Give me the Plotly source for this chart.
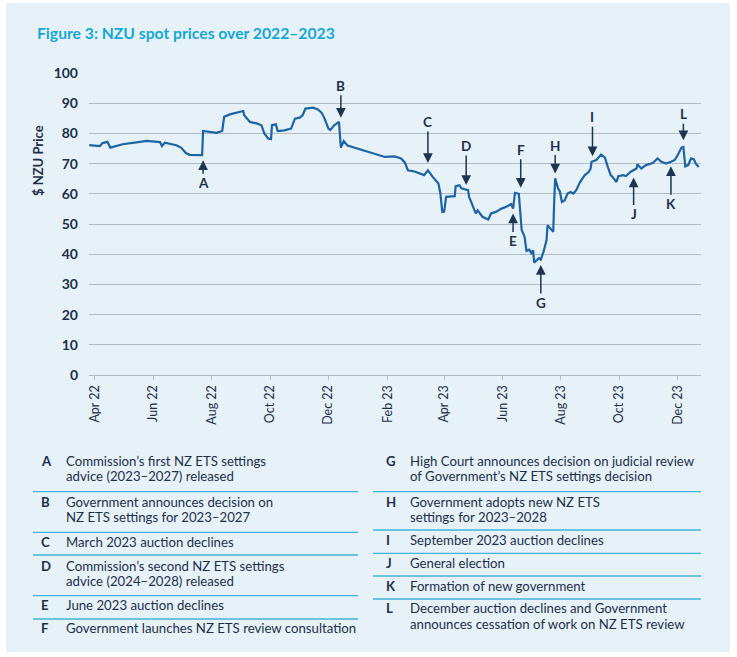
import plotly.graph_objects as go

# ---------------- data ----------------
dates = [
    "2022-03-26", "2022-04-06", "2022-04-09", "2022-04-14", "2022-04-17", "2022-04-20",
    "2022-04-30", "2022-05-18", "2022-05-25", "2022-06-08", "2022-06-10", "2022-06-13",
    "2022-06-25", "2022-06-30", "2022-07-05", "2022-07-09", "2022-07-22", "2022-07-23",
    "2022-07-30", "2022-08-06", "2022-08-12", "2022-08-14", "2022-08-20", "2022-08-27",
    "2022-09-03", "2022-09-04", "2022-09-10", "2022-09-17", "2022-09-22", "2022-09-25",
    "2022-09-29", "2022-10-02", "2022-10-03", "2022-10-07", "2022-10-09", "2022-10-16",
    "2022-10-23", "2022-10-27", "2022-11-01", "2022-11-04", "2022-11-07", "2022-11-15",
    "2022-11-20", "2022-11-24", "2022-11-27", "2022-12-01", "2022-12-03", "2022-12-07",
    "2022-12-12", "2022-12-14", "2022-12-17", "2022-12-21", "2023-01-06", "2023-01-23",
    "2023-01-29", "2023-02-08", "2023-02-15", "2023-02-19", "2023-02-22", "2023-03-01",
    "2023-03-06", "2023-03-11", "2023-03-15", "2023-03-20", "2023-03-26", "2023-03-28",
    "2023-03-30", "2023-04-01", "2023-04-03", "2023-04-12", "2023-04-13", "2023-04-17",
    "2023-04-19", "2023-04-26", "2023-04-27", "2023-04-29", "2023-05-02", "2023-05-04",
    "2023-05-06", "2023-05-11", "2023-05-17", "2023-05-20", "2023-05-25", "2023-05-31",
    "2023-06-05", "2023-06-10", "2023-06-12", "2023-06-14", "2023-06-18", "2023-06-19",
    "2023-06-21", "2023-06-24", "2023-06-26", "2023-06-29", "2023-07-01", "2023-07-03",
    "2023-07-04", "2023-07-09", "2023-07-11", "2023-07-14", "2023-07-17", "2023-07-18",
    "2023-07-21", "2023-07-24", "2023-07-25", "2023-07-26", "2023-07-29", "2023-07-31",
    "2023-08-02", "2023-08-05", "2023-08-08", "2023-08-11", "2023-08-14", "2023-08-17",
    "2023-08-21", "2023-08-26", "2023-08-30", "2023-09-01", "2023-09-02", "2023-09-07",
    "2023-09-12", "2023-09-16", "2023-09-19", "2023-09-22", "2023-09-24", "2023-09-28",
    "2023-09-30", "2023-10-05", "2023-10-08", "2023-10-13", "2023-10-19", "2023-10-20",
    "2023-10-24", "2023-10-29", "2023-11-05", "2023-11-10", "2023-11-14", "2023-11-19",
    "2023-11-24", "2023-11-28", "2023-12-01", "2023-12-05", "2023-12-07", "2023-12-09",
    "2023-12-12", "2023-12-15", "2023-12-18", "2023-12-20", "2023-12-23",
]
prices = [
    76.1, 75.8, 76.8, 77.2, 75.3, 75.6,
    76.4, 77.2, 77.5, 77.1, 75.8, 76.9,
    76.1, 75.3, 73.5, 72.9, 72.8, 80.8,
    80.5, 80.2, 80.8, 85.5, 86.3, 86.8,
    87.4, 86.0, 83.8, 83.3, 82.7, 80.0,
    78.3, 78.1, 82.7, 83.0, 80.8, 81.0,
    81.6, 84.9, 85.2, 86.0, 88.2, 88.5,
    87.9, 86.8, 84.9, 81.6, 81.1, 82.7,
    83.8, 75.3, 77.5, 76.0, 74.4, 72.8,
    72.2, 72.4, 71.7, 70.3, 67.8, 67.4,
    66.7, 66.2, 67.8, 65.6, 63.4, 60.1,
    54.0, 54.1, 59.0, 59.2, 62.5, 62.8,
    61.8, 61.2, 59.0, 57.3, 55.1, 53.5,
    54.5, 52.4, 51.5, 53.5, 54.0, 55.1,
    55.7, 56.6, 55.1, 60.3, 60.0, 56.8,
    48.0, 45.8, 41.1, 41.5, 40.4, 41.3,
    37.2, 38.7, 38.2, 41.0, 44.7, 49.6,
    48.5, 47.4, 57.9, 65.1, 61.8, 60.7,
    57.3, 57.9, 60.1, 60.6, 60.1, 61.2,
    63.9, 66.2, 67.2, 68.3, 70.6, 71.2,
    73.0, 72.0, 68.9, 66.2, 65.6, 63.9,
    65.8, 66.2, 65.9, 67.3, 68.4, 69.8,
    68.4, 69.5, 70.2, 71.7, 70.6, 70.0,
    70.6, 71.2, 72.8, 75.3, 75.5, 69.1,
    69.5, 71.7, 71.4, 70.0, 68.9,
]

tick_dates = ["2022-04-01", "2022-06-01", "2022-08-01", "2022-10-01", "2022-12-01",
              "2023-02-01", "2023-04-01", "2023-06-01", "2023-08-01", "2023-10-01",
              "2023-12-01"]
tick_labels = ["Apr 22", "Jun 22", "Aug 22", "Oct 22", "Dec 22", "Feb 23",
               "Apr 23", "Jun 23", "Aug 23", "Oct 23", "Dec 23"]

event_letters = ["A", "B", "C", "D", "E", "F", "G", "H", "I", "J", "K", "L"]
event_dates = ["2022-07-23", "2022-12-14", "2023-03-15", "2023-04-24", "2023-06-12",
               "2023-06-20", "2023-07-11", "2023-07-26", "2023-09-03", "2023-10-16",
               "2023-11-24", "2023-12-07"]
event_values = [71.1, 85.2, 70.2, 62.9, 53.5, 62.0, 36.4, 66.7, 72.4, 65.4, 69.1, 77.7]

event_texts = [
    ["Commission’s first NZ ETS settings", "advice (2023–2027) released"],
    ["Government announces decision on", "NZ ETS settings for 2023–2027"],
    ["March 2023 auction declines"],
    ["Commission’s second NZ ETS settings", "advice (2024–2028) released"],
    ["June 2023 auction declines"],
    ["Government launches NZ ETS review consultation"],
    ["High Court announces decision on judicial review", "of Government’s NZ ETS settings decision"],
    ["Government adopts new NZ ETS", "settings for 2023–2028"],
    ["September 2023 auction declines"],
    ["General election"],
    ["Formation of new government"],
    ["December auction declines and Government", "announces cessation of work on NZ ETS review"],
]

title_text = "Figure 3: NZU spot prices over 2022–2023"
y_title = "$ NZU Price"

# ---------------- layout / style ----------------
W, H = 737, 657
ML, MR, MT, MB = 89, 36, 73, 282
PW, PH = W - ML - MR, H - MT - MB

def px_x(px):
    return (px - ML) / PW

def px_y(py):
    return (H - MB - py) / PH

FONT = "Lato"
NAVY = "#1b2f4b"
ARROW = "#1d3550"
LINE = "#1c64a6"
BG = "#e7f2f8"
GRID = "#b4bbc6"
CYAN = "#14a7d9"
SEP = "#3fb3da"
TFS = 13.2   # table font size
LH = 15.6    # table line height

# label offsets (pixels) for event arrows
event_ay = [23, -32, -41, -39, 28, -38, 38, -28, -39, 37, 38, -26]

fig = go.Figure()
fig.add_trace(go.Scatter(x=dates, y=prices, mode="lines",
                         line=dict(color=LINE, width=2.2), hoverinfo="skip",
                         showlegend=False))

annotations = []
for L_, d, v, ay in zip(event_letters, event_dates, event_values, event_ay):
    annotations.append(dict(
        x=d, y=v, xref="x", yref="y", text=f"<b>{L_}</b>",
        showarrow=True, ax=0, ay=ay, arrowhead=2, arrowsize=1.3, arrowwidth=1.5,
        arrowcolor=ARROW, standoff=0,
        font=dict(family=FONT, size=13.5, color=NAVY)))

# title
annotations.append(dict(x=px_x(35), y=px_y(33), xref="paper", yref="paper",
                        xanchor="left", yanchor="middle", showarrow=False,
                        text=f"<b>{title_text}</b>",
                        font=dict(family=FONT, size=15.7, color=CYAN)))
# y title
annotations.append(dict(x=px_x(38), y=px_y(161), xref="paper", yref="paper",
                        xanchor="center", yanchor="middle", showarrow=False,
                        textangle=-90, text=f"<b>{y_title}</b>",
                        font=dict(family=FONT, size=13, color=NAVY)))

# table of events (row first-line centres)
left_y = [460.7, 501.7, 542.3, 565.7, 605, 628.3]
right_y = [460.7, 501.7, 540, 563.3, 586, 608.3]
left_sep = [491.7, 532.3, 555, 595.7, 619]
right_sep = [491.7, 530, 553.3, 576, 599]

shapes = [dict(type="rect", xref="paper", yref="paper", layer="below",
               x0=px_x(6), x1=px_x(730), y0=px_y(652), y1=px_y(3),
               fillcolor=BG, line=dict(width=0))]

def add_row(letter, lines, xl, xt, y0):
    annotations.append(dict(x=px_x(xl), y=px_y(y0), xref="paper", yref="paper",
                            xanchor="left", yanchor="middle", showarrow=False,
                            text=f"<b>{letter}</b>",
                            font=dict(family=FONT, size=TFS, color=NAVY)))
    for k, ln in enumerate(lines):
        annotations.append(dict(x=px_x(xt), y=px_y(y0 + k * LH), xref="paper", yref="paper",
                                xanchor="left", yanchor="middle", showarrow=False,
                                text=ln, font=dict(family=FONT, size=TFS, color=NAVY)))

for i in range(6):
    add_row(event_letters[i], event_texts[i], 39, 64, left_y[i])
for i in range(6):
    add_row(event_letters[i + 6], event_texts[i + 6], 384, 408, right_y[i])

for yy in left_sep:
    shapes.append(dict(type="line", xref="paper", yref="paper",
                       x0=px_x(33), x1=px_x(358), y0=px_y(yy), y1=px_y(yy),
                       line=dict(color=SEP, width=1.3)))
for yy in right_sep:
    shapes.append(dict(type="line", xref="paper", yref="paper",
                       x0=px_x(373), x1=px_x(701), y0=px_y(yy), y1=px_y(yy),
                       line=dict(color=SEP, width=1.3)))

fig.update_layout(
    width=W, height=H,
    margin=dict(l=ML, r=MR, t=MT, b=MB, pad=0),
    paper_bgcolor="white", plot_bgcolor="rgba(0,0,0,0)",
    font=dict(family=FONT, color=NAVY),
    annotations=annotations, shapes=shapes,
    xaxis=dict(type="date", range=["2022-03-25 18:00", "2023-12-25 10:00"],
               tickvals=tick_dates, ticktext=tick_labels, tickangle=-90,
               ticks="outside", ticklen=4, tickcolor=GRID, tickwidth=1,
               showgrid=False, showline=True, linecolor=GRID, linewidth=1.3,
               tickfont=dict(family=FONT, size=12.5, color=NAVY), zeroline=False),
    yaxis=dict(range=[0, 100], dtick=10, showgrid=True, gridcolor=GRID, gridwidth=1.3,
               zeroline=False, showline=False, ticks="",
               ticklabelstandoff=10,
               tickfont=dict(family=FONT, size=14, color=NAVY, weight="bold")),
)

fig.write_html("out.html")
